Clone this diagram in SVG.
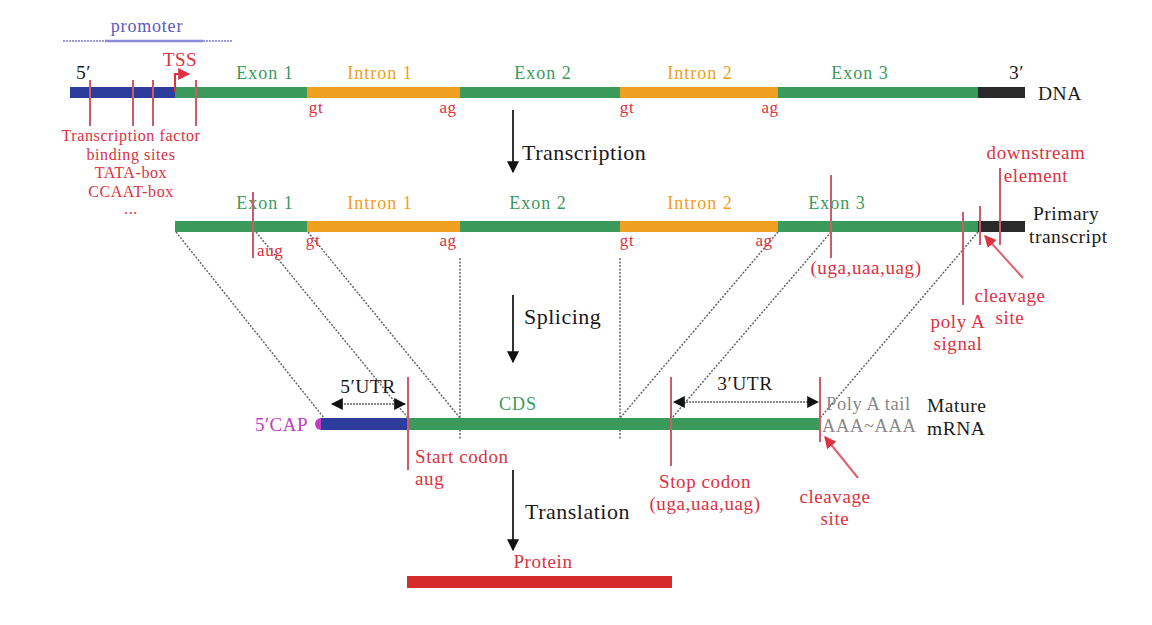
<svg xmlns="http://www.w3.org/2000/svg" width="1152" height="625" viewBox="0 0 1152 625" font-family="'Liberation Serif', 'Times New Roman', serif">
<defs>
<style>
text{font-family:"Liberation Serif","Times New Roman",serif;}
.red{fill:#e0303e;font-size:19px;letter-spacing:0.6px;}
.redsm{fill:#e0303e;font-size:17px;letter-spacing:0.6px;}
.grn{fill:#3a9a5c;font-size:18px;letter-spacing:1px;}
.org{fill:#f0a020;font-size:18px;letter-spacing:1px;}
.blk{fill:#1a1a1a;font-size:19.5px;letter-spacing:0.5px;}
.big{fill:#1a1a1a;font-size:22px;letter-spacing:0.5px;}
.mk{stroke:#d05a6a;stroke-width:2;}
.dot{stroke:#666;stroke-width:1.5;stroke-dasharray:2 1.5;fill:none;}
.g{fill:#3a9a5c;}
.o{fill:#f0a020;}
.b{fill:#2d3d9c;}
.k{fill:#2a2a2a;}
</style>
<marker id="ah" viewBox="0 0 10 10" refX="9" refY="5" markerWidth="6" markerHeight="7" orient="auto-start-reverse">
<path d="M0,0 L10,5 L0,10 z" fill="#111"/>
</marker>
<marker id="rh" viewBox="0 0 10 10" refX="9" refY="5" markerWidth="6" markerHeight="6" orient="auto">
<path d="M0,0 L10,5 L0,10 z" fill="#e0303e"/>
</marker>
</defs>
<rect width="1152" height="625" fill="#fff"/>

<g id="connectors">
<line class="dot" x1="176" y1="232" x2="324" y2="418"/>
<line class="dot" x1="256" y1="232" x2="408" y2="418"/>
<line class="dot" x1="308" y1="232" x2="460" y2="418"/>
<line class="dot" x1="460" y1="258" x2="460" y2="440"/>
<line class="dot" x1="620" y1="258" x2="620" y2="440"/>
<line class="dot" x1="778" y1="232" x2="620" y2="418"/>
<line class="dot" x1="831" y1="232" x2="672" y2="418"/>
<line class="dot" x1="978" y1="232" x2="820" y2="418"/>
<line x1="513" y1="110" x2="513" y2="172" stroke="#333" stroke-width="2" marker-end="url(#ah)"/>
<line x1="513" y1="295" x2="513" y2="362" stroke="#333" stroke-width="2" marker-end="url(#ah)"/>
<line x1="513" y1="470" x2="513" y2="550" stroke="#333" stroke-width="2" marker-end="url(#ah)"/>
</g>

<g id="promoter">
<text x="147" y="32" text-anchor="middle" fill="#5a5ac0" font-size="18" letter-spacing="0.8">promoter</text>
<line x1="63" y1="41" x2="105" y2="41" stroke="#9a9ae0" stroke-width="2" stroke-dasharray="2 1"/>
<line x1="105" y1="41" x2="203" y2="41" stroke="#8a8ad8" stroke-width="2.5"/>
<line x1="203" y1="41" x2="233" y2="41" stroke="#9a9ae0" stroke-width="2" stroke-dasharray="2 1"/>
</g>

<g id="dna">
<rect class="b" x="70" y="87" width="105" height="11"/>
<rect class="g" x="175" y="87" width="132" height="11"/>
<rect class="o" x="307" y="87" width="153" height="11"/>
<rect class="g" x="460" y="87" width="160" height="11"/>
<rect class="o" x="620" y="87" width="158" height="11"/>
<rect class="g" x="778" y="87" width="200" height="11"/>
<rect class="k" x="978" y="87" width="47" height="11"/>
<text x="76" y="79" class="blk">5′</text>
<text x="1009" y="79" class="blk">3′</text>
<text x="1038" y="100" class="blk">DNA</text>
<text x="265" y="79" text-anchor="middle" class="grn">Exon 1</text>
<text x="380" y="79" text-anchor="middle" class="org">Intron 1</text>
<text x="543" y="79" text-anchor="middle" class="grn">Exon 2</text>
<text x="700" y="79" text-anchor="middle" class="org">Intron 2</text>
<text x="860" y="79" text-anchor="middle" class="grn">Exon 3</text>
<text x="316" y="113" text-anchor="middle" class="redsm">gt</text>
<text x="448" y="113" text-anchor="middle" class="redsm">ag</text>
<text x="627" y="113" text-anchor="middle" class="redsm">gt</text>
<text x="770" y="113" text-anchor="middle" class="redsm">ag</text>
<line class="mk" x1="90" y1="80" x2="90" y2="126"/>
<line class="mk" x1="133" y1="80" x2="133" y2="126"/>
<line class="mk" x1="153" y1="80" x2="153" y2="126"/>
<line class="mk" x1="196" y1="80" x2="196" y2="126"/>
<path d="M175,92 L175,74 L189,74" stroke="#e0303e" stroke-width="2" fill="none" marker-end="url(#rh)"/>
<text x="180" y="66" text-anchor="middle" fill="#e0303e" font-size="19" letter-spacing="0.5">TSS</text>
<text x="131" y="141" text-anchor="middle" class="redsm" style="font-size:16px">Transcription factor</text>
<text x="131" y="160" text-anchor="middle" class="redsm" style="font-size:16px">binding sites</text>
<text x="131" y="178" text-anchor="middle" class="redsm" style="font-size:16px">TATA-box</text>
<text x="131" y="197" text-anchor="middle" class="redsm" style="font-size:16px">CCAAT-box</text>
<text x="131" y="214" text-anchor="middle" class="redsm" style="font-size:16px">...</text>
</g>

<g id="primary">
<rect class="g" x="175" y="221" width="132" height="11"/>
<rect class="o" x="307" y="221" width="153" height="11"/>
<rect class="g" x="460" y="221" width="160" height="11"/>
<rect class="o" x="620" y="221" width="158" height="11"/>
<rect class="g" x="778" y="221" width="200" height="11"/>
<rect class="k" x="978" y="221" width="47" height="11"/>
<text x="265" y="209" text-anchor="middle" class="grn">Exon 1</text>
<text x="380" y="209" text-anchor="middle" class="org">Intron 1</text>
<text x="538" y="209" text-anchor="middle" class="grn">Exon 2</text>
<text x="700" y="209" text-anchor="middle" class="org">Intron 2</text>
<text x="837" y="209" text-anchor="middle" class="grn">Exon 3</text>
<line class="mk" x1="253" y1="192" x2="253" y2="258"/>
<text x="257" y="256" class="redsm">aug</text>
<text x="313" y="246" text-anchor="middle" class="redsm">gt</text>
<text x="448" y="246" text-anchor="middle" class="redsm">ag</text>
<text x="627" y="246" text-anchor="middle" class="redsm">gt</text>
<text x="764" y="246" text-anchor="middle" class="redsm">ag</text>
<line class="mk" x1="831" y1="175" x2="831" y2="258"/>
<text x="866" y="274" text-anchor="middle" class="red">(uga,uaa,uag)</text>
<line class="mk" x1="963" y1="212" x2="963" y2="305"/>
<text x="958" y="328" text-anchor="middle" class="red">poly A</text>
<text x="958" y="350" text-anchor="middle" class="red">signal</text>
<line class="mk" x1="980" y1="206" x2="980" y2="245"/>
<line class="mk" x1="1000" y1="168" x2="1000" y2="245"/>
<text x="1036" y="159" text-anchor="middle" class="red">downstream</text>
<text x="1036" y="182" text-anchor="middle" class="red">element</text>
<line x1="1023" y1="278" x2="985" y2="236" stroke="#e06070" stroke-width="2" marker-end="url(#rh)"/>
<text x="1010" y="302" text-anchor="middle" class="red">cleavage</text>
<text x="1010" y="324" text-anchor="middle" class="red">site</text>
<text x="1033" y="220" class="blk">Primary</text>
<text x="1029" y="243" class="blk">transcript</text>
</g>

<g id="arrows-labels">
<text x="522" y="160" class="big">Transcription</text>
<text x="524" y="324" class="big">Splicing</text>
<text x="525" y="519" class="big">Translation</text>
</g>

<g id="mature">
<circle cx="321" cy="424" r="6" fill="#c040c0"/>
<rect class="b" x="321" y="418" width="87" height="12"/>
<rect class="g" x="408" y="418" width="412" height="12"/>
<text x="308" y="431" text-anchor="end" fill="#c040c0" font-size="19" letter-spacing="0.5">5′CAP</text>
<text x="518" y="410" text-anchor="middle" class="grn">CDS</text>
<line class="mk" x1="408" y1="377" x2="408" y2="470"/>
<text x="415" y="463" class="red">Start codon</text>
<text x="415" y="485" class="red">aug</text>
<line class="mk" x1="671" y1="377" x2="671" y2="466"/>
<text x="705" y="488" text-anchor="middle" class="red">Stop codon</text>
<text x="705" y="510" text-anchor="middle" class="red">(uga,uaa,uag)</text>
<line class="mk" x1="820" y1="377" x2="820" y2="442"/>
<line x1="858" y1="478" x2="825" y2="437" stroke="#e06070" stroke-width="2" marker-end="url(#rh)"/>
<text x="835" y="503" text-anchor="middle" class="red">cleavage</text>
<text x="835" y="525" text-anchor="middle" class="red">site</text>
<line x1="332" y1="404" x2="405" y2="404" stroke="#888" stroke-width="2" stroke-dasharray="2 1" marker-start="url(#ah)" marker-end="url(#ah)"/>
<text x="368" y="393" text-anchor="middle" class="blk">5′UTR</text>
<line x1="674" y1="402" x2="818" y2="402" stroke="#888" stroke-width="2" stroke-dasharray="2 1" marker-start="url(#ah)" marker-end="url(#ah)"/>
<text x="745" y="390" text-anchor="middle" class="blk">3′UTR</text>
<text x="826" y="410" fill="#888" font-size="18.5" letter-spacing="0.6">Poly A tail</text>
<text x="822" y="432" fill="#888" font-size="18.5" letter-spacing="0.6">AAA~AAA</text>
<text x="927" y="412" class="blk">Mature</text>
<text x="927" y="435" class="blk">mRNA</text>
</g>

<g id="protein">
<rect x="407" y="576" width="265" height="12" fill="#d42a2a"/>
<text x="543" y="568" text-anchor="middle" class="red">Protein</text>
</g>
</svg>
